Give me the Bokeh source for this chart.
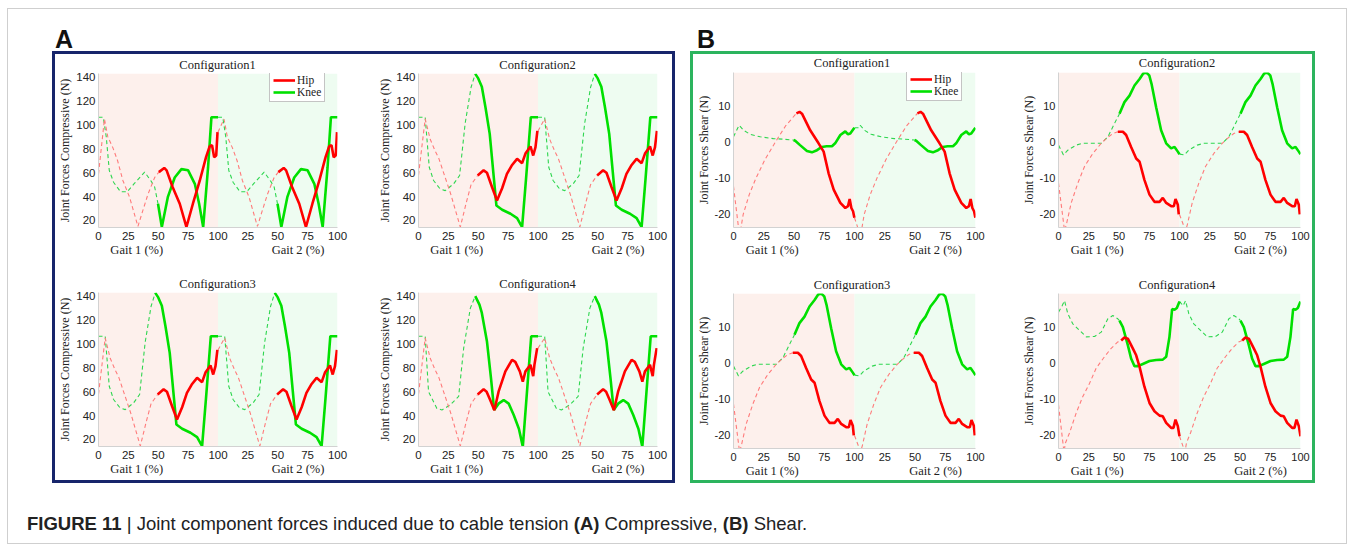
import numpy as np
from bokeh.plotting import figure
from bokeh.models import (Range1d, FixedTicker, LinearAxis, BoxAnnotation, Legend,
                          LegendItem, Div)
from bokeh.layouts import row, column
from bokeh.embed import file_html
from bokeh.resources import INLINE

# ---------------- data (gait-cycle %, one cycle, repeated for gait 2) ----------------
GAIT_TICKS = [0, 25, 50, 75, 100, 125, 150, 175, 200]
GAIT_TICK_LABELS = ["0", "25", "50", "75", "100", "25", "50", "75", "100"]
A_YTICKS = [20, 40, 60, 80, 100, 120, 140]
A_YTICK_LABELS = ["20", "40", "60", "80", "100", "120", "140"]
B_YTICKS = [-20, -10, 0, 10]
B_YTICK_LABELS = ["-20", "-10", "0", "10"]
TITLES = ["Configuration1", "Configuration2", "Configuration3", "Configuration4"]

# (A) compressive
A1_HIP_X = [0, 5, 7.8, 12, 16, 20.4, 26, 33, 37, 41.4, 47, 50.5, 55, 57, 62, 68, 73.6, 79, 84.8, 90, 93, 95, 96.8, 98.5, 99.6]
A1_HIP_Y = [59, 105, 90, 81, 70, 53.5, 39.5, 15, 28, 42, 56, 60.5, 64, 62, 48, 34, 14.5, 34, 53.5, 73, 82, 83, 73, 74.4, 94]
A1_HIP_SPLIT = 50.5
A1_KNEE_X = [0, 4, 6.5, 9, 12.6, 18.5, 24, 30, 38.6, 44, 47, 49.8, 53, 58, 63.8, 69.4, 75, 80.6, 84.2, 87.6, 91.7, 94.5, 100]
A1_KNEE_Y = [106.5, 106.5, 90, 62, 52, 44, 44, 51, 60.5, 53, 48, 34, 14.5, 39.5, 56, 63, 62, 50.7, 34, 14.5, 64.6, 106.5, 106.5]
A1_KNEE_SPLIT = 49.8

A2_HIP_X = [0, 5.6, 9.8, 14, 17, 22, 27, 35, 40, 44, 49.5, 54.5, 57.3, 61.5, 65.7, 70, 74, 78, 82.5, 86.7, 89.5, 93.7, 96, 97.9, 99.5]
A2_HIP_Y = [58, 105, 88, 78, 72, 57, 42, 14.5, 35, 50, 57.7, 62, 60, 48, 36.7, 47, 59, 66, 71.6, 68, 76, 82, 74.4, 81.4, 95]
A2_HIP_SPLIT = 49.5
A2_KNEE_X = [0, 5.6, 9, 12.6, 18, 22.4, 29.4, 34.4, 39, 44, 47.5, 50, 53, 56, 59.6, 65.2, 70, 77, 82.5, 86.7, 90, 94, 100]
A2_KNEE_Y = [106.5, 106.5, 64.6, 53.5, 46.5, 45, 50.7, 57.7, 101, 131.6, 142.8, 139, 132, 115, 92.5, 32.5, 29, 25.6, 22, 14.5, 55, 106.5, 106.5]
A2_KNEE_SPLIT = 47.5

A3_HIP_X = [0, 5.6, 9.8, 14, 17, 22, 27, 35, 40, 44, 49.5, 54.5, 57.3, 61.5, 65.7, 70, 74, 78, 82.5, 86.7, 89.5, 93.7, 96, 97.9, 99.5]
A3_HIP_Y = [58, 105, 88, 78, 72, 57, 42, 14.5, 35, 50, 57.7, 62, 60, 48, 36.7, 47, 59, 66, 71.6, 68, 76, 82, 74.4, 81.4, 95]
A3_HIP_SPLIT = 49.5
A3_KNEE_X = [0, 5.6, 9, 12.6, 18, 22.4, 29.4, 34.4, 39, 44, 47.5, 50, 53, 56, 59.6, 65.2, 70, 77, 82.5, 86.7, 90, 94, 100]
A3_KNEE_Y = [106.5, 106.5, 64.6, 53.5, 46.5, 45, 50.7, 57.7, 101, 131.6, 142.8, 139, 132, 115, 92.5, 32.5, 29, 25.6, 22, 14.5, 55, 106.5, 106.5]
A3_KNEE_SPLIT = 47.5

A4_HIP_X = [0, 5.6, 9.8, 14, 17, 22, 27, 35, 40, 44, 49.5, 54.5, 57, 60, 63.5, 67, 72.7, 78.3, 81, 84.8, 87.3, 89.5, 93.7, 96, 97, 99.3]
A4_HIP_Y = [58, 105, 88, 78, 72, 57, 42, 14.5, 35, 50, 57.7, 62, 60, 53, 44.5, 60, 77, 86.7, 85, 77, 68.5, 77, 82.5, 73, 82.5, 96.5]
A4_HIP_SPLIT = 49.5
A4_KNEE_X = [0, 5.6, 8.4, 15.4, 19.6, 26.6, 33.6, 37.8, 43.4, 47.5, 51, 53, 57.3, 60.7, 63.3, 67, 71.3, 75.5, 79.7, 84, 87.3, 94.3, 100]
A4_KNEE_Y = [106.4, 106.4, 60, 46, 44.7, 49, 56, 96.5, 130, 140, 133, 126, 102, 71, 44.7, 50, 53, 50, 40.5, 29, 14, 106.4, 106.4]
A4_KNEE_SPLIT = 47.5

# (B) shear
B1_HIP_X = [0, 5, 8, 13, 18.5, 26, 34.5, 43, 52, 54.6, 56.6, 63.4, 70.3, 74.5, 78.6, 82.8, 88.3, 92.4, 94.6, 96, 97.4, 98.8, 99.9]
B1_HIP_Y = [-12.2, -26, -20, -14.5, -10, -4.8, 0, 4.5, 8, 8.4, 7.9, 3.3, -0.3, -2.6, -8.6, -13.1, -16.8, -18.2, -17.7, -15.7, -18.2, -19.1, -20.9]
B1_HIP_SPLIT = 52
B1_KNEE_X = [0, 3.6, 4.7, 8.3, 13.8, 22, 33, 41.4, 49.6, 51, 55, 60.7, 64.8, 69, 73, 77, 81.4, 84, 88.3, 92.4, 94.6, 96.5, 99.9]
B1_KNEE_Y = [1.5, 4, 4.7, 3.3, 2.2, 1.5, 1, 0.85, 0.6, 0.4, -0.8, -2.4, -2.8, -2.2, -1.3, -1.1, -1.1, -0.3, 2, 3, 2.2, 2.4, 4]
B1_KNEE_SPLIT = 49.6

B2_HIP_X = [0, 5, 6.5, 10.5, 16, 21.5, 28.4, 35.3, 39.4, 44.9, 49, 53.2, 55.9, 60, 64.2, 67, 71, 75.2, 79.3, 83.5, 86.2, 89, 93.1, 95.3, 96.7, 98.6, 99.4]
B2_HIP_Y = [-11.3, -24.5, -22.8, -16.8, -11.3, -6.7, -3.1, -0.3, 1, 2.4, 2.9, 2.9, 2, -1.3, -4.5, -5.4, -10.4, -14.5, -16.5, -16.5, -15.4, -16.8, -17.7, -17.7, -15.7, -17.3, -20]
B2_HIP_SPLIT = 49
B2_KNEE_X = [0, 4.1, 7.7, 14.6, 20, 28.4, 35.3, 40.8, 46.3, 50.4, 54.5, 58.7, 62.8, 67, 70, 72.5, 75, 77, 80.7, 84.8, 89, 93.1, 95.9, 98.6, 100]
B2_KNEE_Y = [-0.8, -3.5, -2.2, -0.8, -0.3, -0.3, -0.3, 1.5, 5.2, 7.9, 11.1, 12.9, 15.7, 17.5, 19, 19.3, 18.5, 16, 9.7, 3.3, -0.3, -1.7, -1.3, -2.6, -3.3]
B2_KNEE_SPLIT = 50.4

B3_HIP_X = [0, 5, 6.5, 10.5, 16, 21.5, 28.4, 35.3, 39.4, 44.9, 49, 53.2, 55.9, 60, 64.2, 67, 71, 75.2, 79.3, 83.5, 86.2, 89, 93.1, 95.3, 96.7, 98.6, 99.4]
B3_HIP_Y = [-11.3, -24.5, -22.8, -16.8, -11.3, -6.7, -3.1, -0.3, 1, 2.4, 2.9, 2.9, 2, -1.3, -4.5, -5.4, -10.4, -14.5, -16.5, -16.5, -15.4, -16.8, -17.7, -17.7, -15.7, -17.3, -20]
B3_HIP_SPLIT = 49
B3_KNEE_X = [0, 4.1, 7.7, 14.6, 20, 28.4, 35.3, 40.8, 46.3, 50.4, 54.5, 58.7, 62.8, 67, 70, 72.5, 75, 77, 80.7, 84.8, 89, 93.1, 95.9, 98.6, 100]
B3_KNEE_Y = [-0.8, -3.5, -2.2, -0.8, -0.3, -0.3, -0.3, 1.5, 5.2, 7.9, 11.1, 12.9, 15.7, 17.5, 19, 19.3, 18.5, 16, 9.7, 3.3, -0.3, -1.7, -1.3, -2.6, -3.3]
B3_KNEE_SPLIT = 50.4

B4_HIP_X = [0, 4.5, 5.8, 9.1, 14.6, 20.1, 25.6, 31.1, 38, 43.5, 49, 51.8, 54.5, 57.3, 61.4, 64.2, 67, 71, 75.2, 79.3, 83.5, 86.2, 89, 93.1, 95, 96.7, 98.6, 100]
B4_HIP_Y = [-11.5, -24.5, -22, -19.3, -13.8, -9.2, -5.6, -1.4, 1.8, 4.1, 5.9, 6.3, 7.1, 6.8, 4.1, 2.2, -1, -6.5, -11, -13.3, -14.5, -14.7, -16.5, -17.9, -17.9, -15.6, -17.4, -20.2]
B4_HIP_SPLIT = 51.8
B4_KNEE_X = [0, 3, 5, 7.7, 11.8, 17.4, 22.9, 29.8, 35.3, 40.8, 44.9, 49, 50.4, 53.2, 57.3, 60, 62.8, 65.6, 69.7, 75.2, 80.7, 86.2, 89, 91.7, 93.9, 95.9, 97.8, 100]
B4_KNEE_Y = [14.1, 15.9, 17.3, 13.7, 10.9, 9.1, 7.3, 7.4, 8.6, 12.3, 13.2, 12.3, 11.8, 10, 5, 1.3, -0.8, -0.8, -0.2, 0.6, 0.9, 1, 1.8, 7.3, 15, 14.8, 15.3, 17.1]
B4_KNEE_SPLIT = 50.4

# ---------------- styling ----------------
SERIF = "Liberation Serif"
SANS = "Liberation Sans"
HIP_SOLID = "#ff0000"
HIP_DASH = "#ff7b7b"
KNEE_SOLID = "#00e000"
KNEE_DASH = "#2fd650"
PINK = "#fdf0ec"
MINT = "#eefcf1"
NAVY = "#17256b"
GREEN_BOX = "#2cb45e"
FIG_TOP = 1  # canvas space above each frame; the rest is the title strip


def draw_series(p, X, Y, split, c_solid, c_dash):
    xs = np.asarray(X, dtype=float)
    ys = np.asarray(Y, dtype=float)
    d = xs <= split
    s = xs >= split
    solid_r = None
    for k, off in enumerate([0, 100]):
        dy = ys[d].copy()
        if k == 1:
            dy[0] = ys[s][-1]
        p.line(xs[d] + off, dy, line_color=c_dash, line_width=1.1, line_dash="4 3")
    for k, off in enumerate([0, 100]):
        r = p.line(xs[s] + off, ys[s], line_color=c_solid, line_width=2.6)
        if k == 0:
            solid_r = r
    return solid_r


def style_axis(ax):
    ax.major_tick_out = 0
    ax.major_tick_in = 0
    ax.minor_tick_out = 0
    ax.minor_tick_in = 0
    ax.major_tick_line_color = None
    ax.minor_tick_line_color = None


def make_plot(title, ylabel, yrange, yticks, ylabels, fw, fh, bl, br, bt, bb,
              hip, knee, tick_size="11.5px", legend_loc=None, title_gap=9):
    p = figure(frame_width=fw, frame_height=fh, x_range=Range1d(0, 200),
               y_range=Range1d(*yrange), output_backend="svg", toolbar_location=None,
               x_axis_type=None, y_axis_type=None,
               min_border_left=bl, min_border_right=br, min_border_top=FIG_TOP,
               min_border_bottom=bb)
    p.outline_line_color = None
    p.background_fill_color = "white"
    p.border_fill_color = "white"

    p.add_layout(BoxAnnotation(left=0, right=100, fill_color=PINK, fill_alpha=1,
                               line_color=None, level="underlay"))
    p.add_layout(BoxAnnotation(left=100, right=200, fill_color=MINT, fill_alpha=1,
                               line_color=None, level="underlay"))

    xa = LinearAxis(ticker=FixedTicker(ticks=GAIT_TICKS),
                    major_label_overrides={t: l for t, l in zip(GAIT_TICKS, GAIT_TICK_LABELS)})
    ga = LinearAxis(ticker=FixedTicker(ticks=[32, 167]),
                    major_label_overrides={32: "Gait 1 (%)", 167: "Gait 2 (%)"})
    ya = LinearAxis(ticker=FixedTicker(ticks=yticks),
                    major_label_overrides={t: l for t, l in zip(yticks, ylabels)},
                    axis_label=ylabel)
    for ax in (xa, ya, ga):
        style_axis(ax)
    for ax in (xa, ya):
        ax.axis_line_color = "#d2d2d2"
        ax.major_label_text_font = SANS
        ax.major_label_text_font_size = tick_size
        ax.major_label_text_color = "#222222"
    xa.major_label_standoff = 4
    ya.major_label_standoff = 3
    ga.axis_line_color = None
    ga.major_label_text_font = SERIF
    ga.major_label_text_font_size = "12.5px"
    ga.major_label_text_color = "#222222"
    ga.major_label_standoff = 0
    ya.axis_label_text_font = SERIF
    ya.axis_label_text_font_style = "normal"
    ya.axis_label_text_font_size = "12px"
    ya.axis_label_text_color = "#222222"
    ya.axis_label_standoff = 1
    p.add_layout(xa, "below")
    p.add_layout(ga, "below")
    p.add_layout(ya, "left")

    rk = draw_series(p, knee[0], knee[1], knee[2], KNEE_SOLID, KNEE_DASH)
    rh = draw_series(p, hip[0], hip[1], hip[2], HIP_SOLID, HIP_DASH)
    if legend_loc is not None:
        leg = Legend(items=[LegendItem(label="Hip", renderers=[rh]),
                            LegendItem(label="Knee", renderers=[rk])],
                     location=legend_loc, margin=0, padding=3, spacing=0,
                     glyph_width=22, glyph_height=12, label_height=12,
                     label_standoff=2, label_text_font=SERIF,
                     label_text_font_size="11.5px", label_text_color="#222222",
                     border_line_color="#8a8a8a", border_line_width=1,
                     background_fill_alpha=1)
        p.add_layout(leg)

    # title strip above the canvas, centred over the frame
    strip_h = bt - FIG_TOP
    top_off = bt - title_gap - 7
    tdiv = Div(text=('<div style="position:relative;top:%dpx;left:%dpx;width:%dpx;'
                     'text-align:center;font-family:Liberation Serif,serif;font-size:12.5px;'
                     'line-height:14px;color:#222;white-space:nowrap">%s</div>')
                    % (top_off, bl + 1, fw, title),
               width=bl + fw, height=strip_h, margin=0,
               styles={"overflow": "visible"})
    return column(tdiv, p, spacing=0, margin=0)


AY = "Joint Forces Compressive (N)"
BY = "Joint Forces Shear (N)"
AR = (14.1, 143.1)
BR = (-23.6, 19.3)

a1 = make_plot(TITLES[0], AY, AR, A_YTICKS, A_YTICK_LABELS, 239, 154, 42, 38, 19, 35,
               (A1_HIP_X, A1_HIP_Y, A1_HIP_SPLIT), (A1_KNEE_X, A1_KNEE_Y, A1_KNEE_SPLIT),
               legend_loc=(171, 125))
a2 = make_plot(TITLES[1], AY, AR, A_YTICKS, A_YTICK_LABELS, 239, 154, 42, 15, 19, 35,
               (A2_HIP_X, A2_HIP_Y, A2_HIP_SPLIT), (A2_KNEE_X, A2_KNEE_Y, A2_KNEE_SPLIT))
a3 = make_plot(TITLES[2], AY, AR, A_YTICKS, A_YTICK_LABELS, 239, 154, 42, 38, 30, 34,
               (A3_HIP_X, A3_HIP_Y, A3_HIP_SPLIT), (A3_KNEE_X, A3_KNEE_Y, A3_KNEE_SPLIT))
a4 = make_plot(TITLES[3], AY, AR, A_YTICKS, A_YTICK_LABELS, 239, 154, 42, 15, 30, 34,
               (A4_HIP_X, A4_HIP_Y, A4_HIP_SPLIT), (A4_KNEE_X, A4_KNEE_Y, A4_KNEE_SPLIT))

b1 = make_plot(TITLES[0], BY, BR, B_YTICKS, B_YTICK_LABELS, 242, 155, 37, 43, 18, 35,
               (B1_HIP_X, B1_HIP_Y, B1_HIP_SPLIT), (B1_KNEE_X, B1_KNEE_Y, B1_KNEE_SPLIT),
               tick_size="11px", legend_loc=(173, 126), title_gap=9.5)
b2 = make_plot(TITLES[1], BY, BR, B_YTICKS, B_YTICK_LABELS, 242, 155, 37, 12, 18, 35,
               (B2_HIP_X, B2_HIP_Y, B2_HIP_SPLIT), (B2_KNEE_X, B2_KNEE_Y, B2_KNEE_SPLIT),
               tick_size="11px", title_gap=9.5)
b3 = make_plot(TITLES[2], BY, BR, B_YTICKS, B_YTICK_LABELS, 242, 155, 37, 43, 31, 32,
               (B3_HIP_X, B3_HIP_Y, B3_HIP_SPLIT), (B3_KNEE_X, B3_KNEE_Y, B3_KNEE_SPLIT),
               tick_size="11px")
b4 = make_plot(TITLES[3], BY, BR, B_YTICKS, B_YTICK_LABELS, 242, 155, 37, 12, 31, 32,
               (B4_HIP_X, B4_HIP_Y, B4_HIP_SPLIT), (B4_KNEE_X, B4_KNEE_Y, B4_KNEE_SPLIT),
               tick_size="11px")

boxA = column(row(a1, a2, spacing=0), row(a3, a4, spacing=0), spacing=0,
              styles={"border": "3px solid " + NAVY})
boxB = column(row(b1, b2, spacing=0), row(b3, b4, spacing=0), spacing=0,
              styles={"border": "3px solid " + GREEN_BOX})

labA = Div(text='<div style="position:relative;top:18px;left:3px;font-family:Liberation Sans,Arial;'
                'font-weight:bold;font-size:25px;line-height:1;color:#111">A</div>',
           width=300, height=42, margin=0)
labB = Div(text='<div style="position:relative;top:18px;left:7px;font-family:Liberation Sans,Arial;'
                'font-weight:bold;font-size:25px;line-height:1;color:#111">B</div>',
           width=300, height=42, margin=0)

caption = Div(text='<div style="position:relative;top:32px;left:19px;font-family:Liberation Sans,Arial;'
                   'font-size:18.5px;line-height:1;color:#222;white-space:nowrap">'
                   '<b>FIGURE 11</b> | Joint component forces induced due to cable tension '
                   '<b>(A)</b> Compressive, <b>(B)</b> Shear.</div>',
              width=1338, height=60, margin=0)

colA = column(labA, boxA, spacing=0, margin=(0, 0, 0, 44))
colB = column(labB, boxB, spacing=0, margin=(0, 0, 0, 15))
top = row(colA, colB, spacing=0, margin=0)
root = column(top, caption, spacing=0, margin=(8, 0, 0, 7),
              styles={"border": "1px solid #cfcfcf", "background": "white"})

open("out.html", "w").write(file_html(root, INLINE, title="Figure 11"))
